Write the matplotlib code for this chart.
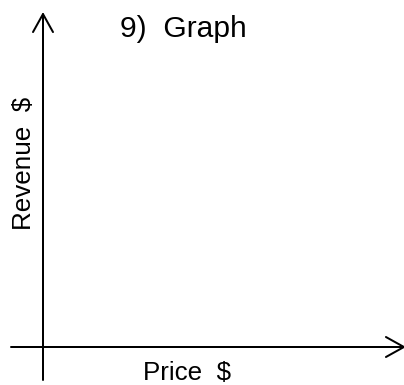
import matplotlib
matplotlib.use("Agg")
import matplotlib.pyplot as plt

# texts of the blank graph
title = "9)  Graph"
x_label = "Price  $"
y_label = "Revenue  $"

# figure at 72 dpi, so 1 pt = 1 px
fig = plt.figure(figsize=(404 / 72, 385 / 72), dpi=72)
ax = fig.add_axes([0, 0, 1, 1])
ax.set_xlim(0, 404)
ax.set_ylim(385, 0)
ax.axis("off")

arrow = dict(arrowstyle="->,head_length=18,head_width=10", lw=2,
             color="black", mutation_scale=1, shrinkA=0, shrinkB=0)

# y axis
ax.annotate("", xy=(43, 12), xytext=(43, 380), arrowprops=arrow,
            annotation_clip=False)
# x axis
ax.annotate("", xy=(406, 347), xytext=(11, 347), arrowprops=arrow,
            annotation_clip=False)

font = "Liberation Sans"
ax.text(120, 37, title, fontsize=30, family=font, ha="left", va="baseline")
ax.text(143, 380, x_label, fontsize=26, family=font, ha="left", va="baseline")
ax.text(24, 163, y_label, fontsize=26, family=font, rotation=90,
        ha="center", va="center")

fig.savefig("out.png", dpi=72)
